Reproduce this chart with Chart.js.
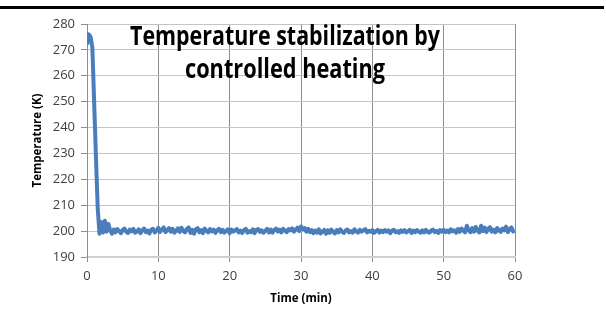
<!DOCTYPE html>
<html>
<head>
<meta charset="utf-8">
<script src="https://cdn.jsdelivr.net/npm/chart.js@4.4.1/dist/chart.umd.min.js"></script>
<style>
  html, body { margin: 0; padding: 0; background: #fff; }
  #wrap { width: 606px; height: 321px; position: relative; }
</style>
</head>
<body>
<div id="wrap"><canvas id="myChart"></canvas></div>
<script>
// sampling interval of the log, minutes
var STEP = 0.25;

// temperature (K), one row per minute (t = m, m+0.25, m+0.5, m+0.75)
var temps = [
  272, 276, 275, 271,
  250, 229, 209, 199,
  203.5, 199.5, 204, 199.8,
  202.8, 200.2, 199.0, 200.6,
  199.5, 200.8, 200.1, 199.2,
  200.4, 201.0, 199.7, 199.3,
  200.6, 199.9, 200.9, 199.4,
  199.8, 200.7, 199.2, 200.3,
  201.0, 199.6, 200.2, 199.1,
  200.5, 200.9, 199.5, 200.1,
  201.3, 199.7, 200.6, 201.4,
  199.6, 200.3, 201.2, 199.8,
  200.9, 199.4, 200.2, 201.1,
  199.7, 201.3, 200.0, 199.5,
  200.8, 201.4, 199.3, 200.5,
  199.0, 200.7, 201.2, 199.6,
  200.4, 199.2, 201.0, 200.1,
  199.5, 200.8, 199.9, 200.6,
  199.3, 200.3, 200.9, 199.6,
  200.5, 199.4, 200.1, 200.7,
  199.2, 200.6, 199.8, 200.3,
  200.8, 199.5, 200.2, 199.3,
  200.4, 200.9, 199.4, 200.0,
  199.6, 200.7, 199.2, 200.5,
  200.8, 199.7, 200.3, 199.4,
  200.1, 200.9, 199.5, 200.6,
  199.4, 200.4, 201.0, 199.8,
  200.6, 199.5, 200.9, 200.2,
  199.6, 200.8, 200.3, 201.1,
  199.8, 200.6, 201.3, 200.0,
  201.8, 200.7, 201.2, 199.8,
  200.9, 199.6, 200.4, 199.2,
  200.2, 199.4, 200.7, 199.1,
  199.8, 200.5, 199.0, 200.3,
  199.3, 200.6, 199.7, 199.1,
  200.4, 199.5, 200.7, 199.8,
  199.3, 200.2, 200.6, 199.5,
  200.0, 199.4, 200.7, 199.9,
  199.4, 200.5, 199.8, 200.3,
  200.8, 199.5, 200.1, 199.7,
  200.4, 199.3, 200.0, 200.5,
  199.4, 200.2, 199.6, 200.4,
  199.8, 200.3, 199.2, 200.1,
  200.5, 199.6, 200.0, 199.3,
  200.3, 199.7, 200.4, 199.5,
  199.9, 200.5, 199.3, 200.2,
  199.6, 200.4, 199.8, 199.4,
  200.3, 199.5, 200.5, 199.7,
  199.4, 200.2, 200.6, 199.6,
  200.1, 199.3, 200.4, 199.8,
  200.5, 199.6, 200.2, 199.5,
  200.7, 199.9, 200.3, 199.4,
  200.8, 199.7, 201.0, 200.2,
  199.5, 202.1, 200.4, 199.6,
  201.2, 199.8, 201.6, 200.1,
  199.5, 202.1, 200.0, 201.4,
  199.6, 200.9, 201.5, 199.8,
  200.6, 199.5, 201.2, 200.2,
  199.7, 201.0, 200.3, 201.7,
  199.6, 200.8, 201.4, 199.9,
  200.2
];

var xTicks = [0, 10, 20, 30, 40, 50, 60];
var yTicks = [190, 200, 210, 220, 230, 240, 250, 260, 270, 280];
var titleLines = ["Temperature stabilization by", "controlled heating"];

var points = temps.map(function(v, i){ return {x: i * STEP, y: v} });

// big title sits inside the plot, plus the black rule across the top
var overlay = {
  id: 'overlay',
  afterDraw: function(chart){
    var ctx = chart.ctx;
    ctx.save();
    ctx.fillStyle = '#000';
    ctx.fillRect(0, 6, 604, 3);

    ctx.font = 'bold 26px "Open Sans"';
    ctx.textAlign = 'center';
    ctx.textBaseline = 'alphabetic';
    var widths = [310, 200];
    var baselines = [45, 78];
    titleLines.forEach(function(t, i){
      var w = ctx.measureText(t).width;
      ctx.save();
      ctx.translate(285, baselines[i]);
      ctx.scale(widths[i] / w, 1);
      ctx.fillText(t, 0, 0);
      ctx.restore();
    });
    ctx.restore();
  }
};

new Chart("myChart", {
  type: "line",
  data: {
    datasets: [{
      data: points,
      borderColor: '#4a7ebb',
      borderWidth: 4,
      borderJoinStyle: 'round',
      pointRadius: 0,
      tension: 0,
      fill: false
    }]
  },
  options: {
    responsive: true,
    maintainAspectRatio: false,
    animation: false,
    layout: { padding: { top: 24, right: 91, left: 0, bottom: 0 } },
    plugins: {
      legend: { display: false },
      title: { display: false },
      tooltip: { enabled: false }
    },
    scales: {
      x: {
        type: 'linear',
        min: 0, max: 60,
        afterBuildTicks: function(s){ s.ticks = xTicks.map(function(v){ return {value: v} }) },
        afterFit: function(s){ s.height = 64 },
        ticks: { color: '#404040', font: { family: 'Open Sans', size: 13 }, padding: 6, maxRotation: 0 },
        grid: { color: '#8e8e8e', lineWidth: 1, tickLength: 5, tickColor: '#8e8e8e' },
        border: { color: '#cfcfcf', width: 2 },
        title: {
          display: true, text: 'Time (min)', color: '#000',
          font: { family: 'Open Sans', size: 11.5, weight: 'bold' },
          padding: { top: 6, bottom: 15 }
        }
      },
      y: {
        min: 190, max: 280,
        afterBuildTicks: function(s){ s.ticks = yTicks.map(function(v){ return {value: v} }) },
        afterFit: function(s){ s.width = 87 },
        ticks: { color: '#404040', font: { family: 'Open Sans', size: 13 }, padding: 6 },
        grid: { color: '#c4c4c4', lineWidth: 1, tickLength: 6, tickColor: '#8e8e8e' },
        border: { color: '#8e8e8e', width: 1 },
        title: {
          display: true, text: 'Temperature (K)', color: '#000',
          font: { family: 'Open Sans', size: 11.5, weight: 'bold' },
          padding: { top: 31, bottom: 4 }
        }
      }
    }
  },
  plugins: [overlay]
});
</script>
</body>
</html>
